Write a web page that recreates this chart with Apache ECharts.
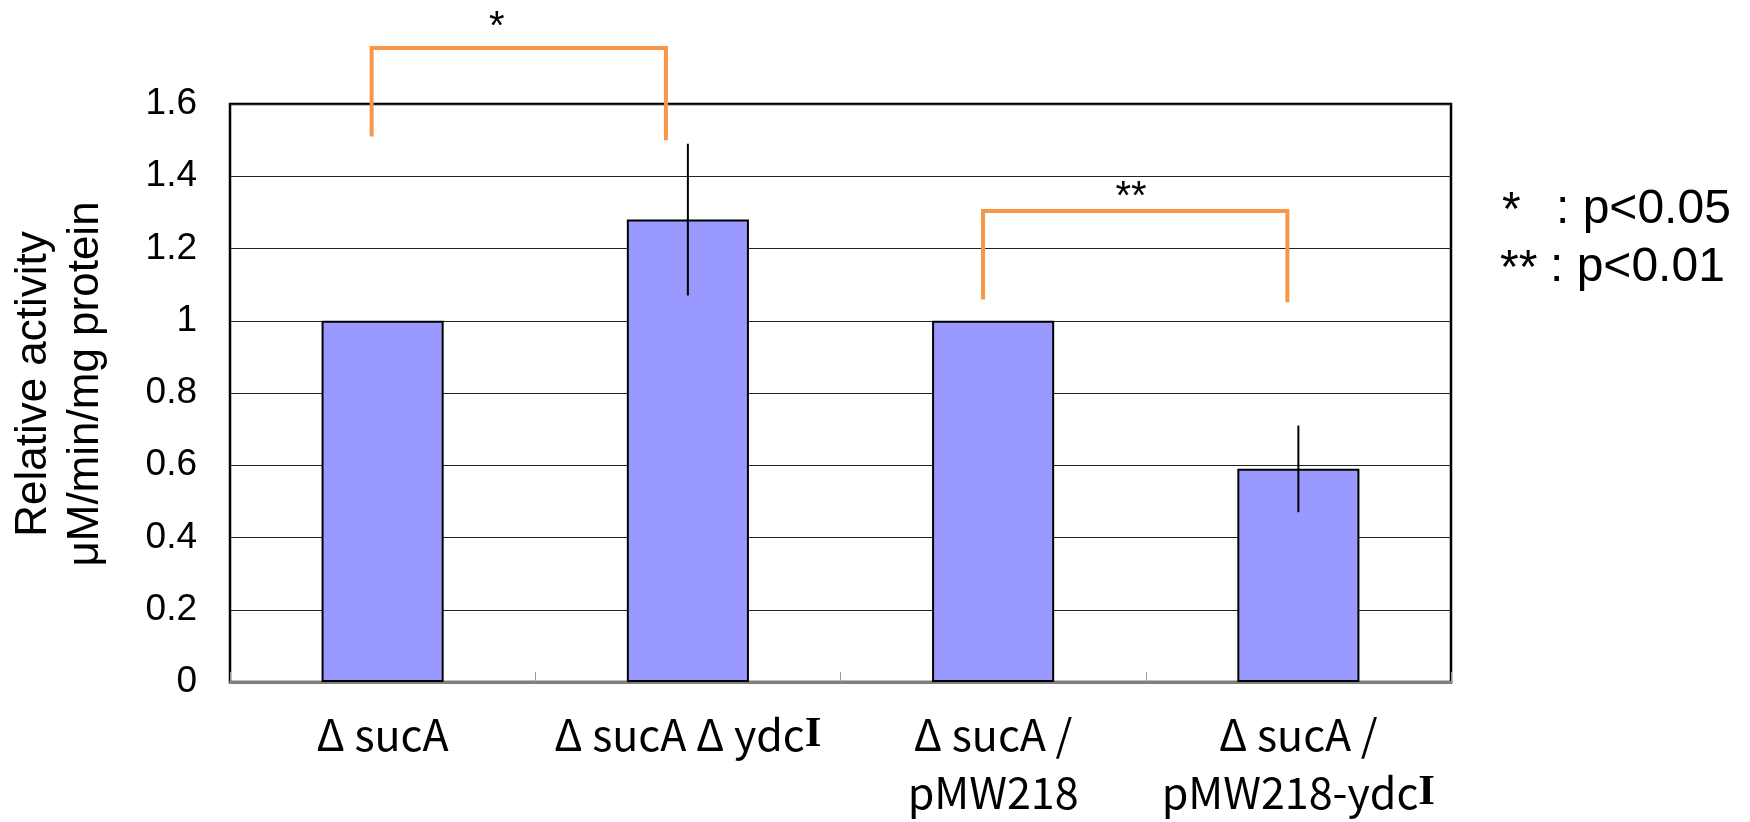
<!DOCTYPE html>
<html><head><meta charset="utf-8">
<script src="https://cdn.jsdelivr.net/npm/echarts@6/dist/echarts.min.js"></script>
<style>html,body{margin:0;padding:0;background:#fff}#c{width:1750px;height:822px}</style>
</head><body><div id="c"></div>
<script>
// ---- data ----
const categories = ['Δ sucA', 'Δ sucA Δ ydcI', 'Δ sucA /\npMW218', 'Δ sucA /\npMW218-ydcI'];
const values = [1.0, 1.28, 1.0, 0.59];
const errLow = [null, 1.07, null, 0.47];
const errHigh = [null, 1.49, null, 0.71];
const yMin = 0, yMax = 1.6, yInterval = 0.2;
// significance brackets: category index + fractional offset within band
const bracketFromCat = [0, 2];
const bracketFromOff = [-0.036, -0.033];
const bracketToCat = [1, 3];
const bracketToOff = [-0.072, -0.036];
const bracketTop = [1.755, 1.304];
const bracketLeftEnd = [1.51, 1.059];
const bracketRightEnd = [1.50, 1.051];
const starText = ['*', '**'];
const starCat = [0, 2];
const starOff = [0.374, 0.452];
const starY = [1.81, 1.34];
const legendStars = ['*', '**'];
const legendTexts = [': p<0.05', ': p<0.01'];
const yTitle = ['Relative activity', 'μM/min/mg protein'];

const chart = echarts.init(document.getElementById('c'), null, {renderer: 'canvas'});

const errData = categories.map((c, i) => [i, errLow[i], errHigh[i]]).filter(d => d[1] != null);
const brData = bracketTop.map((t, i) => [bracketFromCat[i], t, bracketFromOff[i], bracketToCat[i], bracketToOff[i], bracketLeftEnd[i], bracketRightEnd[i], starCat[i], starOff[i], starY[i]]);

const labelFont = '"Noto Sans CJK JP", sans-serif';
function fmtCat(v) {
  // render the trailing capital I of ydcI with a serif glyph, as in the original
  return v.split('\n').map(line => line.replace(/ydcI$/, 'ydc{i|I}')).join('\n');
}

const option = {
  backgroundColor: '#fff',
  animation: false,
  grid: {left: 230, right: 299, top: 104, bottom: 129, show: true, borderColor: '#000', borderWidth: 2.5, backgroundColor: 'transparent'},
  xAxis: {
    type: 'category', data: categories, boundaryGap: true,
    axisLine: {show: true, lineStyle: {color: '#7f7f7f', width: 3}},
    axisTick: {show: true, inside: true, length: 10, lineStyle: {color: '#999', width: 1}},
    axisLabel: {fontFamily: labelFont, fontSize: 43, lineHeight: 58, color: '#000', margin: 24, interval: 0,
      formatter: fmtCat,
      rich: {i: {fontFamily: '"Liberation Serif", serif', fontWeight: 'bold', fontSize: 43, lineHeight: 58, color: '#000'}}}
  },
  yAxis: {
    type: 'value', min: yMin, max: yMax, interval: yInterval,
    axisLine: {show: true, lineStyle: {color: '#000', width: 2}},
    axisTick: {show: false},
    axisLabel: {fontFamily: '"Liberation Sans", Arial, sans-serif', fontSize: 37, color: '#000', margin: 33},
    splitLine: {show: true, lineStyle: {color: '#222', width: 1.2}}
  },
  graphic: [
    {type: 'text', x: 60, y: 384, rotation: Math.PI / 2,
     style: {text: yTitle.join('\n'), font: '44px "Liberation Sans", Arial, sans-serif', lineHeight: 52, align: 'center', verticalAlign: 'middle', fill: '#000'}},
    {type: 'text', x: 1502, y: 212, style: {text: legendStars[0], font: '48px "Liberation Sans", Arial, sans-serif', verticalAlign: 'middle', fill: '#000'}},
    {type: 'text', x: 1556, y: 210, style: {text: legendTexts[0], font: '48px "Liberation Sans", Arial, sans-serif', verticalAlign: 'middle', fill: '#000'}},
    {type: 'text', x: 1500, y: 270, style: {text: legendStars[1], font: '48px "Liberation Sans", Arial, sans-serif', verticalAlign: 'middle', fill: '#000'}},
    {type: 'text', x: 1550, y: 268, style: {text: legendTexts[1], font: '48px "Liberation Sans", Arial, sans-serif', verticalAlign: 'middle', fill: '#000'}}
  ],
  series: [
    {
      type: 'bar', data: values, barWidth: '40%',
      itemStyle: {color: '#9999FF', borderColor: '#000', borderWidth: 2},
      z: 2
    },
    {
      type: 'custom', data: errData, z: 5, clip: false,
      encode: {x: 0, y: [1, 2]},
      renderItem: function (params, api) {
        const lo = api.coord([api.value(0), api.value(1)]);
        const hi = api.coord([api.value(0), api.value(2)]);
        return {type: 'line', shape: {x1: lo[0], y1: lo[1], x2: hi[0], y2: hi[1]}, style: {stroke: '#000', lineWidth: 2}};
      }
    },
    {
      type: 'custom', data: brData, z: 6, clip: false,
      encode: {x: 0, y: 1},
      renderItem: function (params, api) {
        const band = api.size([1, 0])[0];
        const top = api.value(1);
        const pA = api.coord([api.value(0), top]);
        const pB = api.coord([api.value(3), top]);
        const xA = pA[0] + api.value(2) * band;
        const xB = pB[0] + api.value(4) * band;
        const yL = api.coord([api.value(0), api.value(5)])[1];
        const yR = api.coord([api.value(0), api.value(6)])[1];
        const s = api.coord([api.value(7), api.value(9)]);
        const sx = s[0] + api.value(8) * band;
        return {type: 'group', children: [
          {type: 'polyline', shape: {points: [[xA, yL], [xA, pA[1]], [xB, pA[1]], [xB, yR]]}, style: {stroke: '#F79646', lineWidth: 4, fill: null}},
          {type: 'text', style: {text: starText[params.dataIndex], x: sx, y: s[1], font: '40px "Liberation Sans", Arial, sans-serif', align: 'center', verticalAlign: 'middle', fill: '#000'}}
        ]};
      }
    }
  ]
};
chart.setOption(option);
</script></body></html>
